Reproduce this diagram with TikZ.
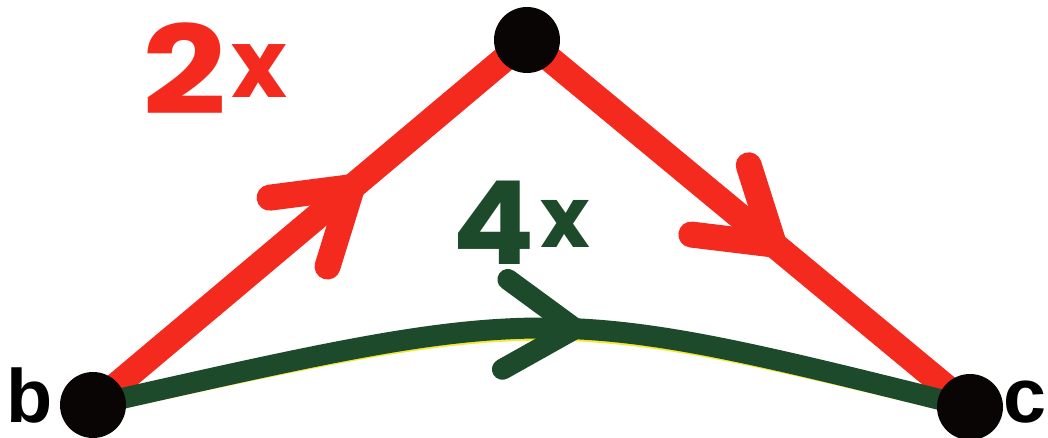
\documentclass[tikz,border=0pt]{standalone}
\usepackage{fontspec}
\setmainfont{Liberation Sans}
\newfontfamily\handfont{Poppins}
\usepackage{tikz}
\usetikzlibrary{arrows.meta,backgrounds,decorations.markings}
\definecolor{PathRed}{HTML}{F52A1E}
\definecolor{PathGreen}{HTML}{1D4A2A}
\definecolor{PrintYellow}{HTML}{F2EA3A}
\definecolor{DotInk}{HTML}{0A0505}
\tikzset{
  dot/.style={circle,fill=DotInk,minimum size=1.32cm,inner sep=0pt},
  redpath/.style={color=PathRed,line width=0.52cm},
  greenpath/.style={color=PathGreen,line width=0.42cm},
  chevron/.style={postaction={decorate},decoration={markings,
    mark=at position #1 with {\arrow{Straight Barb[length=1.4cm,width=1.8cm,round]}}}},
  label/.style={anchor=base west,inner sep=0pt}
}
\newcommand{\timeslabel}[4]{\handfont\bfseries\fontsize{#1}{#1}\selectfont
  \scalebox{#4}[1]{#3}\hspace{3pt}\raisebox{10pt}{\fontsize{#2}{#2}\selectfont x}}

\begin{document}
\begin{tikzpicture}[x=0.02cm,y=-0.02cm]
  \useasboundingbox (0,0) rectangle (1048,438);
  \node[dot] (b) at (93,405) {};
  \node[dot] (top) at (527,40) {};
  \node[dot] (c) at (970,407) {};
  \begin{scope}[on background layer]
    \draw[redpath,chevron=0.62] (b.center) -- (top.center);
    \draw[redpath,chevron=0.58] (top.center) -- (c.center);
    % print shift under the green stroke
    \draw[PrintYellow,line width=0.4cm,yshift=-0.07cm] (b.center) .. controls (549,302) .. (c.center);
    \draw[greenpath,chevron=0.56] (b.center) .. controls (549,302) .. (c.center);
  \end{scope}
  \node[label,text=PathRed] (twox) at (142,115) {\timeslabel{70}{54}{2}{1.2}};
  \node[label,text=PathGreen] (fourx) at (452,265) {\timeslabel{66}{48}{4}{1.05}};
  \node[label] (blabel) at (6,423) {\bfseries\fontsize{43}{43}\selectfont b};
  \node[label] (clabel) at (1003,423) {\bfseries\fontsize{44}{44}\selectfont c};
\end{tikzpicture}
\end{document}
